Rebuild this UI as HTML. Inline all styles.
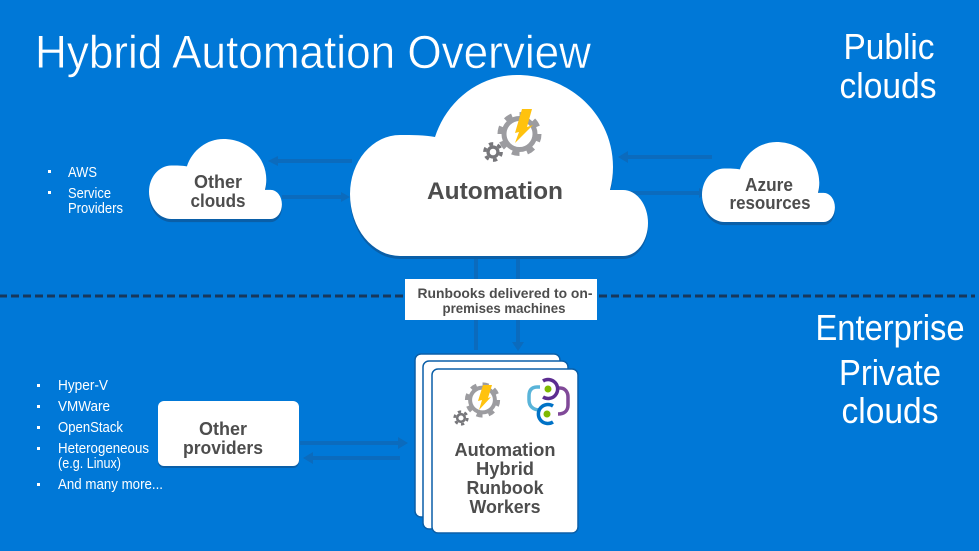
<!DOCTYPE html>
<html><head><meta charset="utf-8"><style>
html,body{margin:0;padding:0;background:#0078d7;}
svg{display:block;font-family:"Liberation Sans",sans-serif;}
.l{fill:#fff;font-size:15px;}
.d{fill:#4d4d4d;font-weight:bold;text-anchor:middle;font-size:18px;}
.a{stroke:#0b6bbd;stroke-width:4;fill:none;}
.h{fill:#0b6bbd;}
</style></head><body>
<svg width="979" height="551" viewBox="0 0 979 551" xmlns="http://www.w3.org/2000/svg">
<defs>
<path id="c" d="M50 181A50 62 0 0 1 0 119A50 59 0 0 1 50 60C62 60 75 60 85 62C97 25 130 0 167 0C220 0 263 40 263 92C263 100 262 107 260 115L273 115A25 33 0 0 1 298 148A25 33 0 0 1 273 181Z"/>
<g id="gear"><circle r="15.500" fill="none" stroke="#9c9ca0" stroke-width="5"/><circle r="19.500" fill="none" stroke="#9c9ca0" stroke-width="5" stroke-dasharray="7.600 7.700"/></g>
<g id="sgear"><circle r="4.500" fill="none" stroke="#77777b" stroke-width="3"/><circle r="7.500" fill="none" stroke="#77777b" stroke-width="3" stroke-dasharray="3.900 3.950"/></g>
</defs>
<rect width="979" height="551" fill="#0078d7"/>

<!-- connectors -->
<path class="a" d="M275 161H352M282 197H342M625 157H712M612 193H700M476 256V350M518 256V344M300 443H400M310 458H400"/>
<path class="h" d="M268 161l10-5v10zM350 197l-9-5v10zM618 157l10-6v12zM708 193l-9-5v10zM476 250l-5 9h10zM518 351l-6-9h12zM408 443l-10-6v12zM303 458l10-6v12z"/>

<!-- dashed line -->
<path d="M0 296H975" stroke="#17385c" stroke-width="3" stroke-dasharray="8 4" stroke-dashoffset="1"/>

<!-- title -->
<text x="35" y="68" font-size="46" fill="#fff" stroke="#0078d7" stroke-width=".5" textLength="556" lengthAdjust="spacingAndGlyphs">Hybrid Automation Overview</text>
<g fill="#fff" font-size="36" text-anchor="middle">
<text x="889" y="59" textLength="91" lengthAdjust="spacingAndGlyphs">Public</text>
<text x="888" y="98" textLength="97" lengthAdjust="spacingAndGlyphs">clouds</text>
<text x="890" y="340" textLength="149" lengthAdjust="spacingAndGlyphs">Enterprise</text>
<text x="890" y="385" textLength="102" lengthAdjust="spacingAndGlyphs">Private</text>
<text x="890" y="423" textLength="97" lengthAdjust="spacingAndGlyphs">clouds</text>
</g>

<!-- main cloud -->
<use href="#c" x="350" y="78" fill="#0a5fa8"/>
<use href="#c" x="350" y="75" fill="#fff"/>
<use href="#gear" x="519.500" y="134"/>
<g transform="translate(493 152) scale(1.1)"><use href="#sgear"/></g>
<path d="M522 109L532 109L527 127L533 125L515 143L519 132L515 133Z" fill="#ffc20e"/>
<text class="d" x="495" y="199" style="font-size:24px" textLength="136" lengthAdjust="spacingAndGlyphs">Automation</text>

<!-- other clouds -->
<g transform="translate(149 139) scale(.446 .442)"><use href="#c" y="7" fill="#0a5fa8"/><use href="#c" fill="#fff"/></g>
<text class="d" x="218" y="188" textLength="48" lengthAdjust="spacingAndGlyphs">Other</text>
<text class="d" x="218" y="207" textLength="55" lengthAdjust="spacingAndGlyphs">clouds</text>

<!-- azure -->
<g transform="translate(702 142) scale(.446 .442)"><use href="#c" y="7" fill="#0a5fa8"/><use href="#c" fill="#fff"/></g>
<text class="d" x="769" y="191" textLength="48" lengthAdjust="spacingAndGlyphs">Azure</text>
<text class="d" x="770" y="209" textLength="81" lengthAdjust="spacingAndGlyphs">resources</text>

<!-- left lists -->
<g>
<text class="l" x="68" y="177" textLength="29" lengthAdjust="spacingAndGlyphs">AWS</text>
<text class="l" x="68" y="198" textLength="43" lengthAdjust="spacingAndGlyphs">Service</text>
<text class="l" x="68" y="213" textLength="55" lengthAdjust="spacingAndGlyphs">Providers</text>
<text class="l" x="58" y="390" textLength="50" lengthAdjust="spacingAndGlyphs">Hyper-V</text>
<text class="l" x="58" y="411" textLength="52" lengthAdjust="spacingAndGlyphs">VMWare</text>
<text class="l" x="58" y="432" textLength="65" lengthAdjust="spacingAndGlyphs">OpenStack</text>
<text class="l" x="58" y="453" textLength="91" lengthAdjust="spacingAndGlyphs">Heterogeneous</text>
<text class="l" x="58" y="468" textLength="63" lengthAdjust="spacingAndGlyphs">(e.g. Linux)</text>
<text class="l" x="58" y="489" textLength="105" lengthAdjust="spacingAndGlyphs">And many more...</text>
</g>
<g fill="#fff">
<rect x="48" y="170" width="3" height="3"/><rect x="48" y="191" width="3" height="3"/>
<rect x="37" y="384" width="3" height="3"/><rect x="37" y="405" width="3" height="3"/><rect x="37" y="426" width="3" height="3"/><rect x="37" y="447" width="3" height="3"/><rect x="37" y="483" width="3" height="3"/>
</g>

<!-- other providers -->
<rect x="158" y="403" width="141" height="65" rx="6" fill="#0a5fa8"/>
<rect x="158" y="401" width="141" height="65" rx="6" fill="#fff"/>
<text class="d" x="223" y="435" textLength="48" lengthAdjust="spacingAndGlyphs">Other</text>
<text class="d" x="223" y="454" textLength="80" lengthAdjust="spacingAndGlyphs">providers</text>

<!-- runbooks label -->
<rect x="405" y="279" width="192" height="41" fill="#fff"/>
<g fill="#4d4d4d" font-size="14" font-weight="bold" text-anchor="middle">
<text x="505" y="298" textLength="175" lengthAdjust="spacingAndGlyphs">Runbooks delivered to on-</text>
<text x="504" y="313" textLength="123" lengthAdjust="spacingAndGlyphs">premises machines</text>
</g>

<!-- worker cards -->
<g stroke="#0a5fa8" stroke-width="1.500" fill="#fff">
<rect x="415" y="354" width="145" height="163" rx="6"/>
<rect x="423" y="361" width="145" height="168" rx="6"/>
<rect x="432" y="369" width="146" height="164" rx="6"/>
</g>
<g transform="translate(482.500 400) scale(.8)"><use href="#gear"/></g>
<g transform="translate(461 418) scale(.85)"><use href="#sgear"/></g>
<path d="M483 385L492 385L488 398L491 397L479 410L482 400L478 401Z" fill="#ffc20e"/>
<g fill="none" stroke-width="3.500">
<path d="M540 387H537C531 387 529 391 529 396V400C529 406 533 410 540 410" stroke="#59b4d9"/>
<path d="M557 388H560C565 388 568 392 568 397V405C568 411 564 414 558 414" stroke="#804998"/>
<path d="M543 381A9.500 9.500 0 1 1 543 397" stroke="#5c2d91"/>
<path d="M553 406A9.500 9.500 0 1 0 553 422" stroke="#0072c6"/>
</g>
<circle cx="548" cy="389" r="3.500" fill="#7fba00"/>
<circle cx="547" cy="414" r="3.500" fill="#7fba00"/>
<text class="d" x="505" y="456" textLength="101" lengthAdjust="spacingAndGlyphs">Automation</text>
<text class="d" x="505" y="475" textLength="58" lengthAdjust="spacingAndGlyphs">Hybrid</text>
<text class="d" x="505" y="494" textLength="77" lengthAdjust="spacingAndGlyphs">Runbook</text>
<text class="d" x="505" y="513" textLength="71" lengthAdjust="spacingAndGlyphs">Workers</text>
</svg>
</body></html>
